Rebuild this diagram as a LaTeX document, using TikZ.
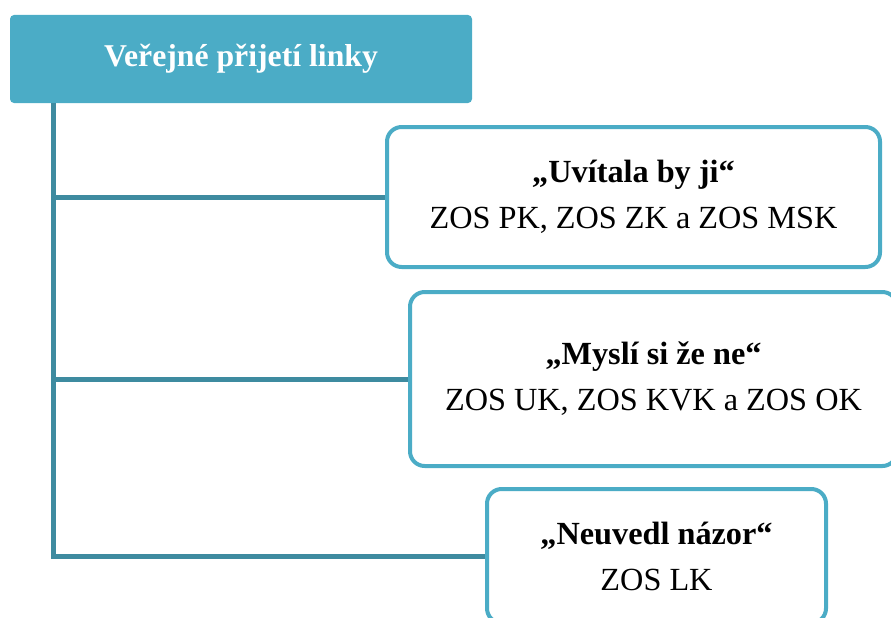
\documentclass[tikz,border=0pt]{standalone}
\usepackage{fontspec}
\setmainfont{Liberation Serif}
\usepackage{xcolor}
\usetikzlibrary{positioning}
\usetikzlibrary{calc}
\definecolor{aqua}{HTML}{4BACC6}
\definecolor{teal line}{HTML}{3E8BA0}

\begin{document}
\begin{tikzpicture}[x=0.75pt,y=-0.75pt,
                    head node/.style={rectangle,rounded corners=3pt,fill=aqua,text=white,
                      minimum width=346.5pt,minimum height=66pt,font=\fontsize{23.8}{28}\selectfont\bfseries},
                    answer node/.style={rectangle,rounded corners=11pt,draw=aqua,line width=3pt,fill=white,
                      align=center,font=\fontsize{24.2}{34.5}\selectfont},
                    link/.style={draw=teal line,line width=3.75pt}]
\useasboundingbox (0,0) rectangle (891,617);
\clip (0,0) rectangle (891,617);
\node[head node] (head) at (241,59) {Veřejné přijetí linky};
\coordinate (trunk) at (53,103);
\node[answer node,minimum width=369.75pt,minimum height=105pt] (yes) at (633.5,197)
  {\textbf{„Uvítala by ji“}\\ZOS PK, ZOS ZK a ZOS MSK};
\node[answer node,minimum width=365.25pt,minimum height=130.5pt] (no) at (653.5,379)
  {\textbf{„Myslí si že ne“}\\ZOS UK, ZOS KVK a ZOS OK};
\node[answer node,minimum width=254.25pt,minimum height=100.5pt] (none) at (656.5,556)
  {\textbf{„Neuvedl názor“}\\ZOS LK};

\path[link]
  (trunk) |- (none.west)
  (trunk |- yes.west) -- (yes.west)
  (trunk |- no.west) -- (no.west);
\end{tikzpicture}
\end{document}
